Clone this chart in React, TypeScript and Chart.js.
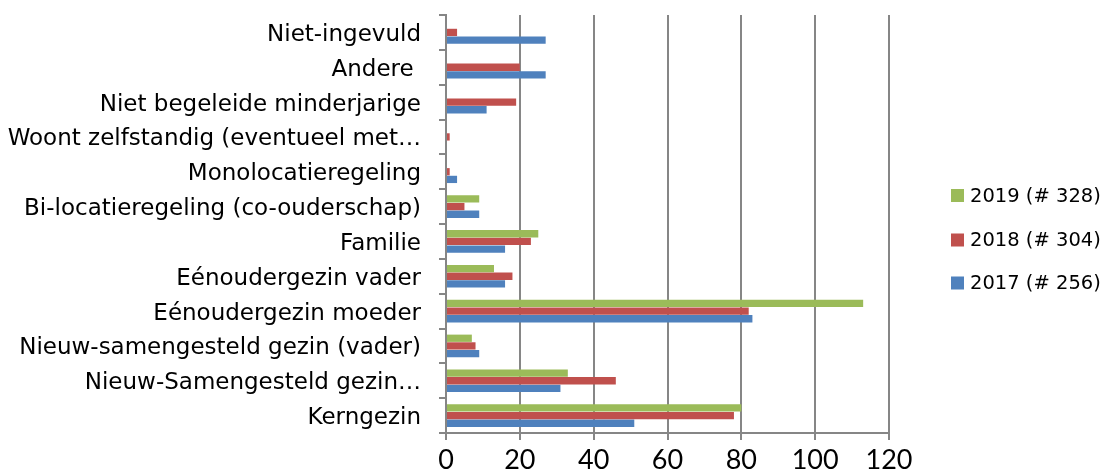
import React, { useEffect, useRef } from 'react';
import { Chart, registerables } from 'chart.js';

Chart.register(...registerables);

const categories = [
  'Niet-ingevuld',
  'Andere ',
  'Niet begeleide minderjarige',
  'Woont zelfstandig (eventueel met…',
  'Monolocatieregeling',
  'Bi-locatieregeling (co-ouderschap)',
  'Familie',
  'Eénoudergezin vader',
  'Eénoudergezin moeder',
  'Nieuw-samengesteld gezin (vader)',
  'Nieuw-Samengesteld gezin…',
  'Kerngezin',
];
const series2019 = [0, 0, 0, 0, 0, 9, 25, 13, 113, 7, 33, 80];
const series2018 = [3, 20, 19, 1, 1, 5, 23, 18, 82, 8, 46, 78];
const series2017 = [27, 27, 11, 0, 3, 9, 16, 16, 83, 9, 31, 51];
const seriesLabels = ['2019 (# 328)', '2018 (# 304)', '2017 (# 256)'];
const seriesColors = ['#9BBB59', '#C0504D', '#4F81BD'];
const xMin = 0;
const xMax = 120;
const xStep = 20;

const W = 1105;
const H = 469;

const legendPlugin = {
  id: 'customLegend',
  afterDraw(chart: any) {
    const ctx = chart.ctx;
    ctx.save();
    ctx.font = '19.5px "DejaVu Sans"';
    ctx.textBaseline = 'middle';
    ctx.textAlign = 'left';
    const ys = [195.5, 240, 283];
    chart.data.datasets.forEach((ds: any, i: number) => {
      const y = ys[i];
      ctx.fillStyle = ds.backgroundColor;
      ctx.fillRect(951, y - 6.5, 13, 13);
      ctx.fillStyle = '#000';
      ctx.fillText(ds.label, 970, y + 1);
    });
    ctx.restore();
  },
};

export default function App() {
  const ref = useRef<HTMLCanvasElement | null>(null);
  useEffect(() => {
    document.body.style.margin = '0';
    const canvas = ref.current!;
    const data = [series2019, series2018, series2017];
    const chart = new Chart(canvas, {
      type: 'bar',
      data: {
        labels: categories,
        datasets: data.map((d, i) => ({
          label: seriesLabels[i],
          data: d,
          backgroundColor: seriesColors[i],
          borderWidth: 0,
          categoryPercentage: 0.66,
          barPercentage: 0.95,
        })),
      },
      options: {
        indexAxis: 'y',
        animation: false,
        responsive: false,
        devicePixelRatio: 1,
        layout: { padding: { top: 15, right: W - 889, left: 0, bottom: 0 } },
        plugins: {
          legend: { display: false },
          tooltip: { enabled: false },
        },
        scales: {
          y: {
            afterFit: (s: any) => {
              s.width = 446;
              s.paddingTop = 0;
              s.paddingBottom = 0;
            },
            grid: {
              offset: true,
              drawOnChartArea: false,
              drawTicks: true,
              tickLength: 7,
              color: '#868686',
              lineWidth: 2,
            },
            border: { display: true, color: '#868686', width: 2 },
            ticks: {
              font: { family: 'DejaVu Sans', size: 23 },
              color: '#000',
              padding: 18,
              labelOffset: 2.5,
              autoSkip: false,
            },
          },
          x: {
            min: xMin,
            max: xMax,
            afterFit: (s: any) => {
              s.height = H - 433;
            },
            grid: {
              color: '#868686',
              lineWidth: 2,
              drawTicks: true,
              tickLength: 7,
            },
            border: { display: true, color: '#868686', width: 2 },
            ticks: {
              stepSize: xStep,
              font: { family: '"Liberation Sans Narrow", Lato', size: 27 },
              color: '#000',
              padding: 4,
            },
          },
        },
      },
      plugins: [legendPlugin],
    });
    return () => chart.destroy();
  }, []);
  return (
    <div style={{ position: 'absolute', left: 0, top: 0, width: W, height: H, background: '#fff' }}>
      <canvas ref={ref} width={W} height={H} />
    </div>
  );
}
